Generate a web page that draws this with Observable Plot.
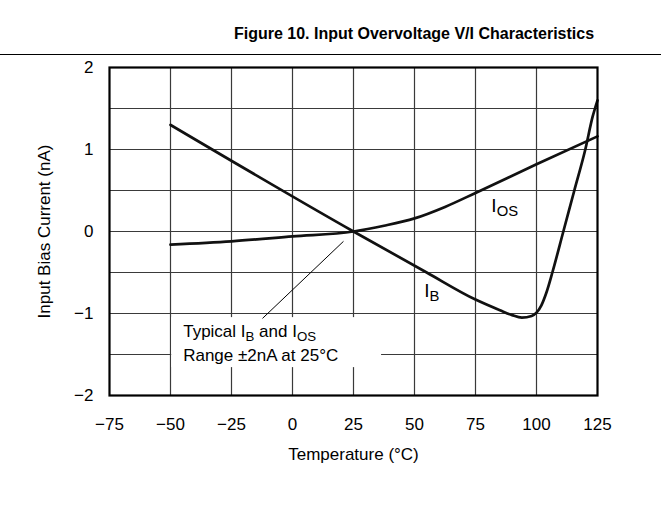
<!DOCTYPE html>
<html><head><meta charset="utf-8">
<script src="https://cdn.jsdelivr.net/npm/d3@7"></script>
<script src="https://cdn.jsdelivr.net/npm/@observablehq/plot@0.6"></script>
<style>
body{margin:0;background:#fff;font-family:"Liberation Sans",Arial,sans-serif;}
#title{position:relative;height:54px;border-bottom:1px solid #000;}
#title span{position:absolute;left:414px;top:24px;transform:translateX(-50%);white-space:nowrap;font-weight:bold;font-size:16px;line-height:20px;}
#chart svg{display:block;}
</style></head><body>
<div id="title"><span>Figure 10. Input Overvoltage V/I Characteristics</span></div>
<div id="chart"></div>
<script>
// Data
const xTicks = [-75, -50, -25, 0, 25, 50, 75, 100, 125];
const yTicks = [-2, -1, 0, 1, 2];
const xGrid = [-50, -25, 0, 25, 50, 75, 100];
const yGrid = [-1.5, -1, -0.5, 0, 0.5, 1, 1.5];

const ibTemp  = [-50, 25, 55, 75, 85, 90, 94, 98, 100, 102, 104, 106.5, 111, 115.5, 120, 123, 125];
const ibValue = [1.3, 0, -0.5, -0.83, -0.96, -1.02, -1.05, -1.03, -0.99, -0.9, -0.75, -0.5, 0, 0.5, 1.0, 1.4, 1.6];

const iosTemp  = [-50, -25, 0, 25, 37.5, 50, 62.5, 75, 100, 125];
const iosValue = [-0.16, -0.12, -0.06, 0, 0.07, 0.16, 0.3, 0.47, 0.82, 1.16];

const curveLabels = [{t: 81.5, v: 0.31, text: "I_{OS}"}, {t: 54, v: -0.73, text: "I_{B}"}];
const noteLines = [{t: -44.8, v: -1.226, text: "Typical I_{B} and I_{OS}"}, {t: -44.8, v: -1.512, text: "Range ±2nA at 25°C"}];
const noteBox = [{x1: -49.5, x2: 36.5, y1: -1.05, y2: -1.66}];
const leader = [{x1: -12.3, y1: -1.06, x2: 20.9, y2: -0.12}];

const xLabel = "Temperature (°C)";
const yLabel = "Input Bias Current (nA)";

const ib = ibTemp.map((t, i) => ({t, v: ibValue[i]}));
const ios = iosTemp.map((t, i) => ({t, v: iosValue[i]}));
const fmt = d => d < 0 ? "\u2212" + Math.abs(d) : String(d);
const gridStyle = {stroke: "#3a3a3a", strokeWidth: 1.2};

const plot = Plot.plot({
  width: 661, height: 474,
  marginLeft: 109, marginRight: 64, marginTop: 12, marginBottom: 134,
  style: {fontFamily: "'Liberation Sans', Arial, sans-serif", fontSize: "17px", color: "#000", background: "#fff"},
  x: {domain: [-75, 125], ticks: xTicks, tickFormat: fmt, tickSize: 0, tickPadding: 22, label: null},
  y: {domain: [-2, 2], ticks: yTicks, tickFormat: fmt, tickSize: 0, tickPadding: 16, label: null},
  marks: [
    Plot.ruleX(xGrid, gridStyle),
    Plot.ruleY(yGrid, gridStyle),
    Plot.rect(noteBox, {x1: "x1", x2: "x2", y1: "y1", y2: "y2", fill: "white"}),
    Plot.line(ib, {x: "t", y: "v", curve: "monotone-x", stroke: "#111", strokeWidth: 2.7}),
    Plot.line(ios, {x: "t", y: "v", curve: "monotone-x", stroke: "#111", strokeWidth: 2.7}),
    Plot.link(leader, {x1: "x1", y1: "y1", x2: "x2", y2: "y2", stroke: "#000", strokeWidth: 1}),
    Plot.text(curveLabels, {x: "t", y: "v", text: "text", textAnchor: "start", lineAnchor: "middle", fontSize: 19}),
    Plot.text(noteLines, {x: "t", y: "v", text: "text", textAnchor: "start", lineAnchor: "middle", fontSize: 17}),
    Plot.frame({stroke: "#000", strokeWidth: 2.2}),
    Plot.text([xLabel], {frameAnchor: "bottom", lineAnchor: "middle", textAnchor: "middle", dy: 59.5, fontSize: 17}),
    Plot.text([yLabel], {frameAnchor: "left", lineAnchor: "middle", textAnchor: "middle", dx: -65, rotate: -90, fontSize: 17})
  ]
});

// subscripts
d3.select(plot).selectAll("text").each(function () {
  const t = this.textContent;
  if (!t.includes("_{")) return;
  this.textContent = "";
  for (const p of t.split(/(_\{[^}]*\})/)) {
    if (!p) continue;
    const ts = document.createElementNS("http://www.w3.org/2000/svg", "tspan");
    if (p.startsWith("_{")) {
      ts.textContent = p.slice(2, -1);
      ts.setAttribute("baseline-shift", "-4");
      ts.setAttribute("font-size", "0.78em");
    } else ts.textContent = p;
    this.appendChild(ts);
  }
});

document.getElementById("chart").appendChild(plot);
</script>
</body></html>
